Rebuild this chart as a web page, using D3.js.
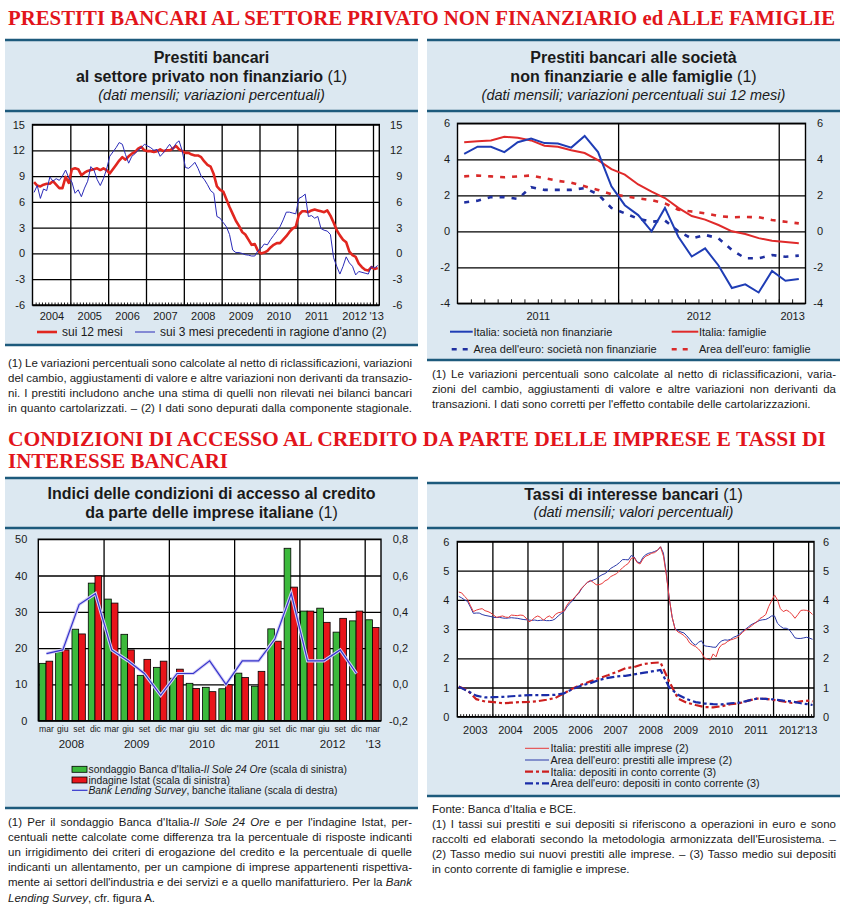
<!DOCTYPE html>
<html><head><meta charset="utf-8">
<script src="https://cdn.jsdelivr.net/npm/d3@7"></script>
<style>body{margin:0;background:#fff}svg{display:block}</style>
</head><body>
<svg id="c" width="848" height="917"></svg>
<script>
// ================= DATA =================
// Top-left: loans to non-financial private sector, monthly Jan 2004 - Feb 2013
const tl12m = [8.3,7.9,7.8,8.0,8.1,8.1,8.4,8.0,7.6,7.6,8.9,8.2,
  9.8,9.9,9.8,9.1,9.4,9.6,9.7,9.8,9.9,9.7,9.9,9.7,
  9.3,9.8,10.3,10.8,11.2,10.9,11.3,11.6,11.8,12.2,12.4,12.0,
  11.9,11.9,11.8,11.9,12.1,11.9,12.0,12.0,12.2,12.5,12.1,11.9,
  11.7,11.7,11.5,11.4,11.4,11.2,10.7,10.3,10.1,9.2,7.8,7.4,
  7.2,6.3,5.4,4.6,3.8,3.2,2.5,2.2,1.6,1.0,1.1,0.3,
  0.0,0.1,0.3,0.7,1.0,1.2,1.2,1.6,2.0,2.5,2.9,3.1,
  4.5,4.9,4.9,4.8,5.0,5.1,5.0,4.9,4.8,5.0,4.4,3.6,
  2.7,2.1,1.6,1.3,0.2,-0.2,-0.4,-1.2,-1.6,-1.9,-2.0,-1.6,-1.8,-1.7];
const tl3m = [7.1,7.9,6.4,7.5,7.3,8.9,8.4,8.7,8.5,9.0,9.7,8.8,
  8.3,7.0,7.4,6.6,7.6,8.4,10.1,9.7,8.6,7.9,8.7,9.8,
  11.3,11.8,12.3,12.9,12.7,11.5,10.5,11.3,11.6,12.0,12.3,12.7,
  12.5,12.3,12.0,12.1,11.3,11.7,12.2,12.7,12.1,12.8,13.1,11.9,
  10.0,9.9,10.2,10.6,9.9,9.0,8.6,8.0,7.3,7.0,4.3,4.1,
  3.6,3.1,2.2,0.4,0.1,0.1,0.0,-0.15,-0.2,-0.3,-0.3,0.3,
  0.6,1.1,1.0,1.6,2.1,2.6,3.1,3.9,4.8,4.8,4.7,4.6,
  6.4,6.6,6.9,4.3,4.4,4.1,4.3,2.9,2.7,2.6,2.2,-0.5,
  -1.5,-2.4,-1.5,-0.4,-1.1,-1.5,-2.5,-2.1,-2.2,-2.3,-2.4,-1.5,-1.7,-1.4];
const tlYTicks = [-6,-3,0,3,6,9,12,15];
const tlYearLabels = ["2004","2005","2006","2007","2008","2009","2010","2011","2012","'13"];

// Top-right: 12-month growth, monthly Jan 2011 - Feb 2013
const trItSoc = [4.3,4.7,4.7,4.4,4.95,5.15,4.9,4.88,4.65,5.3,4.4,2.5,1.45,0.9,0.0,1.3,-0.3,-1.4,-0.95,-1.9,-3.15,-2.95,-3.4,-2.2,-2.75,-2.65];
const trItFam = [4.95,5.0,5.05,5.25,5.2,5.05,4.75,4.7,4.5,4.35,3.95,3.45,3.15,2.6,2.2,1.85,1.3,0.85,0.65,0.35,0.0,-0.15,-0.38,-0.52,-0.6,-0.67];
const trEaSoc = [1.6,1.7,1.9,1.9,1.8,2.45,2.3,2.3,2.3,2.4,2.05,1.3,1.0,0.7,0.53,0.6,0.0,-0.4,-0.2,-0.39,-1.04,-1.5,-1.5,-1.32,-1.41,-1.35];
const trEaFam = [3.05,3.1,3.05,3.0,3.05,3.1,2.95,2.8,2.7,2.5,2.3,2.06,1.95,1.83,1.73,1.55,1.2,1.1,1.0,0.85,0.78,0.8,0.78,0.63,0.53,0.44];
const trYTicks = [-4,-2,0,2,4,6];
const trYearLabels = ["2011","2012","2013"];

// Bottom-left: quarterly, mar 2008 - mar 2013
const blQuarters = ["mar","giu","set","dic","mar","giu","set","dic","mar","giu","set","dic","mar","giu","set","dic","mar","giu","set","dic","mar"];
const blSole  = [15.8,19.0,25.2,37.9,33.5,23.8,12.5,14.7,11.7,10.3,9.2,8.8,13.1,9.5,25.3,47.5,30.2,31.0,24.4,27.5,27.8];
const blIstat = [16.4,19.5,23.9,39.9,32.4,19.5,16.9,16.4,14.2,8.9,8.0,9.9,11.9,13.6,21.9,36.8,30.2,27.1,28.2,30.2,25.7];
const blBLS   = [0.17,0.19,0.44,0.50,0.19,0.13,0.06,-0.06,0.06,0.06,0.13,0.0,0.13,0.13,0.25,0.50,0.13,0.13,0.19,0.06];
const blYTicks = [0,10,20,30,40,50];
const blY2Ticks = [-0.2,0,0.2,0.4,0.6,0.8];
const blYearLabels = ["2008","2009","2010","2011","2012","'13"];

// Bottom-right: interest rates, monthly Jan 2003 - Feb 2013
const brItLoans = [4.27,4.24,4.12,4.02,3.8,3.6,3.65,3.68,3.7,3.63,3.6,3.55,
  3.47,3.4,3.43,3.45,3.41,3.4,3.48,3.47,3.46,3.48,3.47,3.38,
  3.25,3.3,3.4,3.45,3.4,3.3,3.4,3.45,3.37,3.5,3.56,3.58,
  3.62,3.82,3.95,4.02,4.13,4.25,4.4,4.5,4.6,4.67,4.6,4.52,
  4.52,4.56,4.65,4.7,4.8,4.85,4.9,5.0,5.1,5.18,5.25,5.42,
  5.45,5.28,5.23,5.4,5.5,5.54,5.6,5.62,5.7,5.82,5.5,4.85,
  4.05,3.4,3.0,2.9,2.85,2.78,2.68,2.52,2.45,2.4,2.32,2.2,
  2.02,1.97,1.94,2.15,2.05,2.35,2.47,2.5,2.58,2.63,2.66,2.7,
  2.78,2.88,2.97,3.03,3.1,3.18,3.25,3.36,3.42,3.5,3.77,3.97,
  4.17,4.0,3.7,3.6,3.65,3.6,3.5,3.37,3.5,3.64,3.65,3.64,3.6,3.5];
const brEaLoans = [4.12,4.07,4.0,3.95,3.75,3.54,3.55,3.55,3.5,3.47,3.45,3.43,
  3.4,3.4,3.4,3.38,3.37,3.38,3.39,3.38,3.37,3.35,3.33,3.32,
  3.31,3.3,3.31,3.29,3.3,3.31,3.29,3.29,3.3,3.35,3.45,3.53,
  3.6,3.76,3.88,3.98,4.12,4.22,4.38,4.5,4.6,4.64,4.68,4.72,
  4.8,4.86,4.9,4.98,5.08,5.14,5.2,5.28,5.38,5.38,5.37,5.52,
  5.47,5.3,5.27,5.46,5.55,5.6,5.62,5.66,5.7,5.82,5.6,4.9,
  4.05,3.4,3.0,2.95,2.9,2.87,2.77,2.65,2.52,2.45,2.55,2.6,
  2.43,2.41,2.4,2.38,2.38,2.52,2.6,2.63,2.62,2.65,2.72,2.76,
  2.83,2.92,2.99,3.07,3.15,3.2,3.25,3.3,3.32,3.33,3.38,3.45,
  3.45,3.2,3.1,3.03,3.03,2.98,2.85,2.7,2.68,2.68,2.7,2.72,2.69,2.65];
// deposits read quarterly (month index from Jan 2003)
const brDepMonths = [0,3,6,9,12,15,18,21,24,27,30,33,36,39,42,45,48,51,54,57,60,63,66,69,72,75,78,81,84,87,90,93,96,99,102,105,108,111,114,117,120,121];
const brItDep = [1.03,0.9,0.6,0.52,0.5,0.46,0.48,0.5,0.51,0.53,0.58,0.64,0.8,0.97,1.1,1.21,1.32,1.42,1.53,1.66,1.7,1.8,1.84,1.86,1.2,0.62,0.48,0.4,0.33,0.32,0.36,0.43,0.46,0.55,0.62,0.61,0.57,0.52,0.47,0.53,0.55,0.52];
const brEaDep = [1.03,0.88,0.72,0.66,0.67,0.68,0.7,0.72,0.74,0.74,0.74,0.75,0.8,0.95,1.07,1.15,1.26,1.33,1.38,1.4,1.45,1.5,1.55,1.6,1.0,0.75,0.6,0.5,0.45,0.43,0.42,0.46,0.48,0.55,0.62,0.61,0.59,0.55,0.52,0.46,0.42,0.4];
const brYTicks = [0,1,2,3,4,5,6];
const brYearLabels = ["2003","2004","2005","2006","2007","2008","2009","2010","2011","2012","'13"];

// ================= DRAWING =================
const svg = d3.select("#c");
const BG = "#dce8f1", RULE = "#1d5a7c", TXT = "#1a1a1a";
const NARROW = "'Liberation Sans Narrow','Arial Narrow',sans-serif";
const SANS = "'Liberation Sans',Arial,Helvetica,sans-serif";
const SERIF = "'Liberation Serif','Times New Roman',serif";
const HEAD = "#e2141b";

function heading(x, y, str, len) {
  svg.append("text").attr("x", x).attr("y", y).text(str)
    .attr("textLength", len).attr("lengthAdjust", "spacingAndGlyphs")
    .style("font-family", SERIF).style("font-weight", "bold").style("font-size", "20px").attr("fill", HEAD);
}
function panel(x, y, w, h, sepY) {
  svg.append("rect").attr("x", x).attr("y", y).attr("width", w).attr("height", h).attr("fill", BG);
  [y, sepY, y + h].forEach(yy => svg.append("line").attr("x1", x).attr("x2", x + w)
    .attr("y1", yy).attr("y2", yy).attr("stroke", RULE).attr("stroke-width", 2.6));
}
// text with *italic* segments
function richText(x, y, s, font, size, anchor) {
  const t = svg.append("text").attr("x", x).attr("y", y).attr("fill", TXT)
    .style("font-family", font).style("font-size", size + "px").attr("text-anchor", anchor || "start");
  s.split("*").forEach((p, i) => { if (p) t.append("tspan").text(p).style("font-style", i % 2 ? "italic" : "normal"); });
  return t;
}
function titleLine(cx, y, main, light, size) {
  const t = svg.append("text").attr("x", cx).attr("y", y).attr("text-anchor", "middle").attr("fill", TXT)
    .style("font-family", NARROW).style("font-size", size + "px");
  t.append("tspan").text(main).style("font-weight", "bold");
  if (light) t.append("tspan").text(light).style("font-weight", "normal");
}
function subTitle(cx, y, s) {
  svg.append("text").attr("x", cx).attr("y", y).attr("text-anchor", "middle").attr("fill", TXT)
    .style("font-family", NARROW).style("font-size", "14.5px").style("font-style", "italic").text(s);
}
function note(x, y, width, lines, justifyFlags, size) {
  lines.forEach((s, i) => {
    const t = richText(x, y + i * 15.1, s, NARROW, size);
    if (justifyFlags[i]) {
      const w = t.node().getComputedTextLength();
      const n = s.split(" ").length - 1;
      if (n > 0) t.attr("word-spacing", (width - w) / n);
    }
  });
}
function styleGrid(g, w) {
  g.select(".domain").remove();
  g.selectAll("line").attr("stroke", "#000").attr("stroke-width", w);
}
function styleLabels(g, size) {
  g.select(".domain").remove();
  g.attr("font-family", SANS).attr("font-size", size);
  g.selectAll("text").attr("fill", TXT);
}
function frame(b) {
  svg.append("rect").attr("x", b.x0).attr("y", b.y0).attr("width", b.x1 - b.x0).attr("height", b.y1 - b.y0)
    .attr("fill", "none").attr("stroke", "#000").attr("stroke-width", 1.4);
}
function plotBase(b, x, y, yTicks, vTicks, minorTicks, minorLen) {
  svg.append("rect").attr("x", b.x0).attr("y", b.y0).attr("width", b.x1 - b.x0).attr("height", b.y1 - b.y0).attr("fill", "#fff");
  const gh = svg.append("g").attr("transform", `translate(${b.x0},0)`)
    .call(d3.axisLeft(y).tickValues(yTicks).tickSize(-(b.x1 - b.x0)).tickFormat(""));
  styleGrid(gh, 1.3);
  const gv = svg.append("g").attr("transform", `translate(0,${b.y1})`)
    .call(d3.axisBottom(x).tickValues(vTicks).tickSize(-(b.y1 - b.y0)).tickFormat(""));
  styleGrid(gv, 1.3);
  if (minorTicks) {
    const gm = svg.append("g").attr("transform", `translate(0,${b.y1})`)
      .call(d3.axisBottom(x).tickValues(minorTicks).tickSize(-minorLen).tickFormat(""));
    styleGrid(gm, 0.9);
  }
}
function yLabels(b, y, ticks, fmt, leftPad, rightOff, size) {
  const gl = svg.append("g").attr("transform", `translate(${b.x0},0)`)
    .call(d3.axisLeft(y).tickValues(ticks).tickSize(0).tickPadding(leftPad).tickFormat(fmt));
  styleLabels(gl, size);
  const gr = svg.append("g").attr("transform", `translate(${b.x1},0)`)
    .call(d3.axisRight(y).tickValues(ticks).tickSize(0).tickPadding(rightOff).tickFormat(fmt));
  styleLabels(gr, size);
  gr.selectAll("text").attr("text-anchor", "end");
}
function xLabels(b, x, vals, labels, pad, size) {
  const g = svg.append("g").attr("transform", `translate(0,${b.y1})`)
    .call(d3.axisBottom(x).tickValues(vals).tickSize(0).tickPadding(pad).tickFormat((d, i) => labels[i]));
  styleLabels(g, size);
  return g;
}
const intFmt = d => String(d);

// ---------- headings ----------
heading(8, 25, "PRESTITI BANCARI AL SETTORE PRIVATO NON FINANZIARIO ed ALLE FAMIGLIE", 827);
heading(8, 446, "CONDIZIONI DI ACCESSO AL CREDITO DA PARTE DELLE IMPRESE E TASSI DI", 818);
heading(8, 468, "INTERESSE BANCARI", 220);

// ---------- panel TL ----------
panel(5, 40, 413, 305, 111);
titleLine(211.5, 62.5, "Prestiti bancari", null, 16);
titleLine(211.5, 81.5, "al settore privato non finanziario", " (1)", 16);
subTitle(211.5, 100, "(dati mensili; variazioni percentuali)");
{
  const b = {x0: 32.5, x1: 379.3, y0: 124.5, y1: 305};
  const x = d3.scaleLinear().domain([0, tl12m.length]).range([b.x0, b.x1]);
  const y = d3.scaleLinear().domain([-6, 15]).range([b.y1, b.y0]);
  plotBase(b, x, y, tlYTicks, d3.range(12, tl12m.length, 12), d3.range(1, tl12m.length), 2.5);
  const line = d3.line().x((d, i) => x(i + 0.5)).y(d => y(d));
  svg.append("path").datum(tl12m).attr("d", line).attr("fill", "none").attr("stroke", "#e1261f").attr("stroke-width", 2.6).attr("stroke-linejoin", "round");
  svg.append("path").datum(tl3m).attr("d", line).attr("fill", "none").attr("stroke", "#2a2ab8").attr("stroke-width", 1);
  frame(b);
  yLabels(b, y, tlYTicks, intFmt, 7.5, 23, 11);
  xLabels(b, x, tlYearLabels.map((d, i) => i < 9 ? i * 12 + 6 : 109), tlYearLabels, 7, 11);
  // legend
  svg.append("line").attr("x1", 37).attr("x2", 57).attr("y1", 332).attr("y2", 332).attr("stroke", "#e1261f").attr("stroke-width", 2.6);
  richText(62, 336, "sui 12 mesi", NARROW, 12);
  svg.append("line").attr("x1", 135).attr("x2", 155).attr("y1", 332).attr("y2", 332).attr("stroke", "#2a2ab8").attr("stroke-width", 1);
  richText(160, 336, "sui 3 mesi precedenti in ragione d'anno (2)", NARROW, 12);
}
note(8, 366.5, 404, [
  "(1) Le variazioni percentuali sono calcolate al netto di riclassificazioni, variazioni",
  "del cambio, aggiustamenti di valore e altre variazioni non derivanti da transazio-",
  "ni. I prestiti includono anche una stima di quelli non rilevati nei bilanci bancari",
  "in quanto cartolarizzati. – (2) I dati sono depurati dalla componente stagionale."
], [true, true, true, true], 11.5);

// ---------- panel TR ----------
panel(427, 40, 413, 320, 111);
titleLine(633.5, 62.5, "Prestiti bancari alle società", null, 16);
titleLine(633.5, 81.5, "non finanziarie e alle famiglie", " (1)", 16);
subTitle(633.5, 100, "(dati mensili; variazioni percentuali sui 12 mesi)");
{
  const b = {x0: 457.5, x1: 805.5, y0: 123.3, y1: 303.3};
  const x = d3.scaleLinear().domain([0, trItSoc.length]).range([b.x0, b.x1]);
  const y = d3.scaleLinear().domain([-4, 6]).range([b.y1, b.y0]);
  plotBase(b, x, y, trYTicks, [12, 24], d3.range(1, trItSoc.length), 4);
  const line = d3.line().x((d, i) => x(i + 0.5)).y(d => y(d));
  const dash = "5,7";
  svg.append("path").datum(trEaFam).attr("d", line).attr("fill", "none").attr("stroke", "#d92a2a").attr("stroke-width", 2.6).attr("stroke-dasharray", dash);
  svg.append("path").datum(trEaSoc).attr("d", line).attr("fill", "none").attr("stroke", "#1f2fa0").attr("stroke-width", 2.6).attr("stroke-dasharray", dash);
  svg.append("path").datum(trItFam).attr("d", line).attr("fill", "none").attr("stroke", "#e02a2a").attr("stroke-width", 2);
  svg.append("path").datum(trItSoc).attr("d", line).attr("fill", "none").attr("stroke", "#1f3db5").attr("stroke-width", 2);
  frame(b);
  yLabels(b, y, trYTicks, intFmt, 7.5, 17.5, 11);
  xLabels(b, x, [6, 18, 25], trYearLabels, 9, 11);
  const leg = [
    {x1: 450, x2: 472.7, y: 331.7, c: "#1f3db5", w: 2, d: null, tx: 473.5, s: "Italia: società non finanziarie"},
    {x1: 671.7, x2: 698.3, y: 331.7, c: "#e02a2a", w: 2, d: null, tx: 699, s: "Italia: famiglie"},
    {x1: 451.7, x2: 468, y: 349.3, c: "#1f2fa0", w: 2.6, d: "5,6", tx: 473.5, s: "Area dell'euro: società non finanziarie"},
    {x1: 671.7, x2: 690, y: 349.3, c: "#d92a2a", w: 2.6, d: "5,6", tx: 699, s: "Area dell'euro: famiglie"}
  ];
  leg.forEach(l => {
    svg.append("line").attr("x1", l.x1).attr("x2", l.x2).attr("y1", l.y).attr("y2", l.y)
      .attr("stroke", l.c).attr("stroke-width", l.w).attr("stroke-dasharray", l.d);
    richText(l.tx, l.y + 4, l.s, NARROW, 11);
  });
}
note(432, 378, 404, [
  "(1) Le variazioni percentuali sono calcolate al netto di riclassificazioni, varia-",
  "zioni del cambio, aggiustamenti di valore e altre variazioni non derivanti da",
  "transazioni. I dati sono corretti per l'effetto contabile delle cartolarizzazioni."
], [true, true, false], 11.5);

// ---------- panel BL ----------
panel(5, 478, 413, 330, 528);
titleLine(211.5, 498.5, "Indici delle condizioni di accesso al credito", null, 16);
titleLine(211.5, 517.5, "da parte delle imprese italiane", " (1)", 16);
{
  const b = {x0: 38.3, x1: 381, y0: 539.2, y1: 720.7};
  const idx = d3.range(blQuarters.length);
  const xq = d3.scaleBand().domain(idx).range([b.x0, b.x1]).padding(0);
  const xs = d3.scaleBand().domain(["sole", "istat"]).range([0, xq.bandwidth()]).paddingInner(0).paddingOuter(0.22).align(0.35);
  const y = d3.scaleLinear().domain([0, 50]).range([b.y1, b.y0]);
  const y2 = d3.scaleLinear().domain([-0.2, 0.8]).range([b.y1, b.y0]);
  const xLin = d3.scaleLinear().domain([0, blQuarters.length]).range([b.x0, b.x1]);
  plotBase(b, xLin, y, blYTicks, [4, 8, 12, 16, 20], null, 0);
  const series = [{k: "sole", v: blSole, c: "#3cb93c"}, {k: "istat", v: blIstat, c: "#e8141a"}];
  series.forEach(s => {
    svg.append("g").selectAll("rect").data(s.v).join("rect")
      .attr("x", (d, i) => xq(i) + xs(s.k)).attr("width", xs.bandwidth())
      .attr("y", d => y(d)).attr("height", d => y(0) - y(d))
      .attr("fill", s.c).attr("stroke", "#000").attr("stroke-width", 0.8);
  });
  const line = d3.line().x((d, i) => xq(i) + xq.bandwidth() / 2).y(d => y2(d));
  svg.append("path").datum(blBLS).attr("d", line).attr("fill", "none").attr("stroke", "#d6cff5").attr("stroke-width", 3.2);
  svg.append("path").datum(blBLS).attr("d", line).attr("fill", "none").attr("stroke", "#3434cc").attr("stroke-width", 1.2);
  frame(b);
  const gl = svg.append("g").attr("transform", `translate(${b.x0},0)`)
    .call(d3.axisLeft(y).tickValues(blYTicks).tickSize(0).tickPadding(11).tickFormat(intFmt));
  styleLabels(gl, 11);
  const gr = svg.append("g").attr("transform", `translate(${b.x1},0)`)
    .call(d3.axisRight(y2).tickValues(blY2Ticks).tickSize(0).tickPadding(27).tickFormat(d => d3.format(".1f")(d).replace("−", "-").replace(".", ",")));
  styleLabels(gr, 11);
  gr.selectAll("text").attr("text-anchor", "end");
  const gq = svg.append("g").attr("transform", `translate(0,${b.y1})`)
    .call(d3.axisBottom(xq).tickSize(0).tickPadding(5).tickFormat(i => blQuarters[i]));
  styleLabels(gq, 8.6);
  const yearPos = blYearLabels.map((d, i) => i < 5 ? i * 4 + 2 : 20.5);
  const gy = svg.append("g").attr("transform", `translate(0,${b.y1})`)
    .call(d3.axisBottom(xLin).tickValues(yearPos).tickSize(0).tickPadding(19).tickFormat((d, i) => blYearLabels[i]));
  styleLabels(gy, 11.5);
  // legend
  svg.append("rect").attr("x", 72).attr("y", 766.3).attr("width", 15).attr("height", 6).attr("fill", "#3cb93c").attr("stroke", "#000").attr("stroke-width", 0.8);
  richText(88.5, 773, "sondaggio Banca d'Italia-*Il Sole 24 Ore* (scala di sinistra)", NARROW, 10.3);
  svg.append("rect").attr("x", 72).attr("y", 777).attr("width", 15).attr("height", 6).attr("fill", "#e8141a").attr("stroke", "#000").attr("stroke-width", 0.8);
  richText(88.5, 783.7, "indagine Istat (scala di sinistra)", NARROW, 10.3);
  svg.append("line").attr("x1", 72).attr("x2", 87.5).attr("y1", 790.3).attr("y2", 790.3).attr("stroke", "#3434cc").attr("stroke-width", 1.2);
  richText(88.5, 794, "*Bank Lending Survey*, banche italiane (scala di destra)", NARROW, 10.3);
}
note(8, 826, 404, [
  "(1) Per il sondaggio Banca d'Italia-*Il Sole 24 Ore* e per l'indagine Istat, per-",
  "centuali nette calcolate come differenza tra la percentuale di risposte indicanti",
  "un irrigidimento dei criteri di erogazione del credito e la percentuale di quelle",
  "indicanti un allentamento, per un campione di imprese appartenenti rispettiva-",
  "mente ai settori dell'industria e dei servizi e a quello manifatturiero. Per la *Bank*",
  "*Lending Survey*, cfr. figura A."
], [true, true, true, true, true, false], 11.5);

// ---------- panel BR ----------
panel(427, 483, 413, 313, 528);
titleLine(633.5, 499.5, "Tassi di interesse bancari", " (1)", 16);
subTitle(633.5, 517, "(dati mensili; valori percentuali)");
{
  const b = {x0: 457.3, x1: 814, y0: 541.5, y1: 716.7};
  const x = d3.scaleLinear().domain([0, brItLoans.length]).range([b.x0, b.x1]);
  const y = d3.scaleLinear().domain([0, 6]).range([b.y1, b.y0]);
  plotBase(b, x, y, brYTicks, d3.range(12, brItLoans.length, 12), d3.range(1, brItLoans.length), 2.5);
  const line = d3.line().x((d, i) => x(i + 0.5)).y(d => y(d));
  const dline = d3.line().x((d, i) => x(brDepMonths[i] + 0.5)).y(d => y(d));
  const dd = "8,3,3,3";
  svg.append("path").datum(brItDep).attr("d", dline).attr("fill", "none").attr("stroke", "#cc1f1f").attr("stroke-width", 2.2).attr("stroke-dasharray", dd);
  svg.append("path").datum(brEaDep).attr("d", dline).attr("fill", "none").attr("stroke", "#1a2ca8").attr("stroke-width", 2.2).attr("stroke-dasharray", dd);
  svg.append("path").datum(brEaLoans).attr("d", line).attr("fill", "none").attr("stroke", "#2a38a8").attr("stroke-width", 1);
  svg.append("path").datum(brItLoans).attr("d", line).attr("fill", "none").attr("stroke", "#e83a3a").attr("stroke-width", 1);
  frame(b);
  yLabels(b, y, brYTicks, intFmt, 8, 15, 11);
  xLabels(b, x, brYearLabels.map((d, i) => i < 10 ? i * 12 + 6 : 120.5), brYearLabels, 9.5, 11);
  const leg = [
    {c: "#e83a3a", w: 1, d: null, s: "Italia: prestiti alle imprese (2)"},
    {c: "#2a38a8", w: 1, d: null, s: "Area dell'euro: prestiti alle imprese (2)"},
    {c: "#cc1f1f", w: 2.2, d: "8,3,3,3", s: "Italia: depositi in conto corrente (3)"},
    {c: "#1a2ca8", w: 2.2, d: "8,3,3,3", s: "Area dell'euro: depositi in conto corrente (3)"}
  ];
  leg.forEach((l, i) => {
    const yy = 748.3 + i * 11.7;
    svg.append("line").attr("x1", 525).attr("x2", 549).attr("y1", yy).attr("y2", yy)
      .attr("stroke", l.c).attr("stroke-width", l.w).attr("stroke-dasharray", l.d);
    richText(550.5, yy + 3.8, l.s, NARROW, 10.8);
  });
}
richText(432, 813, "Fonte: Banca d'Italia e BCE.", NARROW, 11.5);
note(432, 828, 404, [
  "(1) I tassi sui prestiti e sui depositi si riferiscono a operazioni in euro e sono",
  "raccolti ed elaborati secondo la metodologia armonizzata dell'Eurosistema. –",
  "(2) Tasso medio sui nuovi prestiti alle imprese. – (3) Tasso medio sui depositi",
  "in conto corrente di famiglie e imprese."
], [true, true, true, false], 11.5);
</script>
</body></html>
